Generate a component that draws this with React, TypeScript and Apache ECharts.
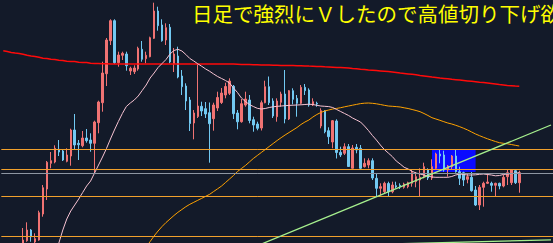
import { useEffect, useRef } from "react";
import * as echarts from "echarts";

// Candles: [open, close, lowest, highest]
const candles: number[][] = [
  [-25, -15, -27, -12], [-15, -19, -23, -11], [-19, -9, -21, -5], [-10, -5, -13, -2], [-5, -9, -14, -3],
  [-7, 3, -9, 15], [2.3, 13, 1.3, 20.7], [13, 6.3, 1.3, 14], [1, 4.3, 0, 9.7], [3, 30.3, 2.3, 32.3],
  [29, 55.3, 26.3, 58], [54, 80.7, 43, 82], [79.7, 82.3, 74.7, 91], [81, 94.7, 79.7, 97.7], [93.7, 91, 87, 103],
  [92, 83, 82, 93], [81.7, 88, 80.7, 94.7], [87, 113, 77.3, 114.3], [113, 98, 93.7, 129], [99.7, 98.3, 83, 103],
  [97.3, 105, 95.7, 112], [105, 102.3, 100.3, 114], [103, 99.7, 91.3, 109.7], [99.7, 121, 69.7, 122.3], [120.3, 141, 109.7, 142.3],
  [140.3, 170, 131.3, 181.3], [169.3, 203, 157, 205], [202.3, 222.3, 198, 223.7], [222.3, 180.3, 179, 223.7], [180.3, 188, 176.3, 191.3],
  [187.7, 189.7, 183, 191.3], [189, 177.3, 172.3, 191.3], [172, 174.7, 168, 176.3], [171.3, 175, 169, 177.7], [174, 194.7, 172.3, 196.3],
  [193.7, 183.7, 181.3, 202], [184.3, 187.7, 179.7, 191.3], [186.3, 205.3, 185.7, 206.3], [204.7, 232, 204, 240.3], [232, 217.3, 212.3, 236.3],
  [218, 202.3, 201.3, 223.7], [203, 215.3, 198, 219.7], [215.7, 181, 179.7, 219], [179, 189, 171, 195], [187, 166, 164.7, 196.3],
  [167, 156.3, 148, 173], [157, 142, 133, 159.7], [143, 119.5, 112, 146], [120, 130, 103.7, 133], [126.5, 137, 125, 179],
  [136.7, 132, 127, 141.3], [134.3, 129, 125, 141], [130.3, 119.3, 80.3, 140.5], [124.3, 138, 112.3, 140.3], [135, 145.5, 132, 151.3],
  [140.5, 150, 139, 155], [148, 156.5, 144.7, 160.3], [149.7, 162, 148, 164.7], [156.7, 129.3, 124, 158], [130, 121.2, 113.7, 133],
  [121.3, 139.3, 120.3, 144], [138, 144, 136.3, 151.3], [143, 122.5, 119.7, 148], [123.3, 118, 111.3, 126.3], [119, 114.7, 112.7, 121.3],
  [115, 140.3, 112.5, 142.5], [140.3, 156.3, 139.7, 162.3], [156.3, 140.3, 138, 166.5], [142, 127, 125, 144.7], [126.3, 142, 121.3, 144.7],
  [140.7, 149, 136.3, 151.3], [149, 124, 119.7, 173], [124, 152.3, 123, 153], [152.3, 143.7, 138.7, 154.7], [144.7, 139.7, 126.3, 148],
  [139.7, 155.7, 138.7, 158], [155.7, 152.3, 148, 159], [153, 138, 136.3, 154.7], [138, 141.3, 137, 144.7], [139.7, 139, 136.3, 141.3],
  [117, 132.3, 114.7, 134.7], [132.3, 111.3, 109.7, 133], [112.3, 106.3, 99, 115.7], [101, 122.3, 94.7, 123], [122, 90.5, 84.5, 123.7],
  [90.7, 88, 86, 96.3], [89.7, 96.3, 88, 99.7], [96.3, 76.5, 76, 99], [74.7, 95, 74.5, 98], [95.7, 93, 89.7, 99],
  [94.7, 74.7, 73, 98], [76.3, 79.7, 75.5, 84.7], [78, 82.3, 74.7, 84.7], [82.3, 65, 63, 84.7], [64.7, 54.7, 46, 69.7],
  [54.7, 56.3, 48, 59.7], [51.3, 59.7, 49.7, 61.3], [59.5, 51.3, 46.3, 61.3], [51.3, 58, 49.7, 61.3], [57.3, 56, 54.5, 61.3],
  [57.7, 56.3, 54, 59.7], [55.7, 59, 54.3, 60.3], [56.3, 60.3, 54.7, 61.3], [59.7, 70.5, 56.3, 73], [61.3, 66.3, 55.7, 71],
  [63, 65.7, 46.3, 74.7], [66.3, 76.3, 64.7, 80.3], [73, 65, 63, 74.7], [65, 76.3, 63, 83.7], [74.7, 89, 73, 90.3],
  [89, 87, 79.7, 93.7], [88, 73, 71.3, 92.3], [73, 77, 66.3, 78], [76.3, 87, 73, 88], [87, 71.3, 70.3, 93.7],
  [71.3, 64.7, 58, 76.3], [70.3, 63, 57, 71.3], [63.7, 66.3, 59.7, 69], [65.7, 52.3, 51.3, 71], [53, 38, 37, 57],
  [38, 55.7, 33, 58], [55.7, 59.7, 36.3, 61.3], [59.7, 61, 59, 69], [59.7, 57.7, 51.3, 61.3], [57.7, 59.7, 46.3, 60.3],
  [59.7, 57, 53.7, 60.3], [57, 65.7, 55.7, 68], [66.3, 70.3, 58, 73.7], [60.3, 73, 58, 73.7], [72.3, 60.3, 59, 73.7],
  [60.3, 70.3, 50.3, 72.3],
];

// Long moving average (red), one value per candle
const maLong: number[] = [
  192.2, 191.5, 190.6, 190, 189.6, 188.8, 187.8, 187, 186.6, 185.7,
  184.8, 184.5, 183.7, 183.5, 182.7, 182.5, 181.7, 181.5, 181.4, 180.7,
  180.6, 180.4, 179.7, 179.6, 179.5, 179.3, 179.2, 179, 179, 179,
  179, 179, 179, 179, 179, 179, 179, 179, 179, 179,
  179, 179, 179, 179, 179, 179, 179, 179, 179, 179,
  179, 179, 179, 179, 179, 179, 179, 179, 179, 178.8,
  178.6, 178.5, 178.4, 178.3, 178.2, 178.1, 178, 177.9, 177.8, 177.7,
  177.6, 177.5, 177.5, 177.4, 177.3, 177.2, 177.1, 176.9, 176.8, 176.6,
  176.5, 176.2, 176, 175.8, 175.6, 175.4, 175.2, 175, 174.5, 174.2,
  173.8, 173.5, 173, 172.7, 172.4, 172.1, 171.8, 171.4, 170.9, 170.4,
  169.9, 169.5, 169.1, 168.7, 168.2, 167.6, 167.1, 166.6, 166, 165.5,
  165, 164.6, 164.2, 163.7, 163.3, 162.9, 162.5, 162.1, 161.7, 161.3,
  160.8, 160.4, 159.9, 159.4, 158.9, 158.4, 158, 157.5, 157.2, 156.9,
  156.7,
];

// Short moving average (pink), starts at candle 13
const maShortStart = 13;
const maShort: number[] = [
  -13, 0, 13, 24, 32, 38, 44,
  50.5, 57, 62, 70, 78, 86, 94.5, 104, 113, 121.5,
  129.5, 136.5, 140, 143, 147, 152.5, 158, 165, 170, 175.5,
  179.5, 183.5, 189, 192.5, 193.7, 192, 188.5, 184.5, 182, 179.2,
  176.7, 174, 171.7, 169, 166.5, 164.5, 162.5, 160, 155, 150.5,
  145, 141.5, 138.5, 136.5, 134.7, 134, 134.5, 135.5, 136.2, 136.7,
  137, 137.3, 137.6, 137.8, 138, 138.2, 138.5, 138.8, 138.5, 137.7,
  137, 136.7, 136.4, 135.5, 133.5, 131.5, 129.5, 127.5, 125, 123,
  121, 117, 112.5, 107.5, 103, 98, 93.5, 90, 86.5, 82,
  79, 75.7, 74, 71.7, 70, 69, 68, 67, 66, 65.7,
  65.7, 65.7, 65.7, 66.5, 68, 69, 68.5, 68, 68, 68.2,
  68.7, 69, 68.5, 68, 67.2, 67.5, 68.5, 69, 69.3, 69.7,
  70.3,
];

// Middle moving average (orange), starts at candle 35
const maMidStart = 35;
const maMid: number[] = [
  -12, -4, 1.5, 7, 12,
  16.5, 20.5, 24, 27.5, 30.7, 33.5, 36.3, 38.7, 40.7, 42.7,
  44.7, 46.7, 48.7, 51.5, 54.2, 57, 60.5, 64, 67.5, 71.5,
  74.5, 77.5, 81, 84.5, 87.5, 90.5, 93.5, 96.5, 99.5, 102.5,
  105.3, 108, 110.5, 113, 115.5, 118.5, 121, 123, 126, 128.5,
  130.5, 132, 133, 134, 134.6, 135.3, 136.2, 137, 137.8, 138.6,
  139.4, 139.8, 140, 139.7, 139.2, 138.5, 137.7, 137, 136.7, 136.4,
  136, 135.2, 134.5, 133.5, 132.5, 131.3, 129.5, 127.5, 125.3, 124,
  122.7, 121.3, 120, 119, 117.7, 116.3, 114.7, 113, 111, 109,
  107.3, 105.7, 104.2, 102.8, 101.5, 100.3, 99.7, 99.2, 98.5, 97.7,
  97,
];

// Horizontal levels
const orangeLevels: number[] = [93.5, 73.5, 46.7, 7];
const grayLevels: number[] = [69.7];

// Trend lines: [categoryIndex, value]
const trendUpper: number[][] = [[65, -1.1], [138, 118]];
const trendLower: number[][] = [[100, -0.7], [138, 3.1]];

// Highlighted zone: category range and value range
const zoneX: number[] = [108, 119];
const zoneY: number[] = [71, 93.5];

const slotCount = 139;
const categories: string[] = Array.from({ length: slotCount }, (_, i) => String(i + 1));

const title = "日足で強烈にＶしたので高値切り下げ欲";

const UP = "#f07373";
const DOWN = "#72c9f2";

export default function App() {
  const ref = useRef<HTMLDivElement>(null);

  useEffect(() => {
    document.body.style.margin = "0";
    const chart = echarts.init(ref.current!, null, { renderer: "svg" });
    const pad = (start: number, arr: number[]) => [...new Array(start).fill(null), ...arr];

    chart.setOption({
      animation: false,
      backgroundColor: "#131a29",
      grid: { left: 1.3, top: 0, width: slotCount * 4, height: 243 },
      xAxis: {
        type: "category",
        data: categories,
        boundaryGap: true,
        show: false,
      },
      yAxis: { type: "value", min: 0, max: 243, show: false },
      graphic: [
        {
          type: "text",
          left: 192,
          top: 2.5,
          style: {
            text: title,
            fill: "#ffff00",
            fontSize: 20.5,
            fontFamily: '"Noto Sans CJK JP", "Noto Sans CJK SC", sans-serif',
          },
        },
      ],
      series: [
        {
          type: "candlestick",
          silent: true,
          data: candles,
          barWidth: 2,
          itemStyle: {
            color: UP,
            color0: DOWN,
            borderColor: UP,
            borderColor0: DOWN,
            borderWidth: 1,
          },
          markArea: {
            silent: true,
            itemStyle: { color: "#0a0aff", opacity: 1 },
            data: [[{ coord: [zoneX[0], zoneY[1]] }, { coord: [zoneX[1], zoneY[0]] }]],
          },
          markLine: {
            silent: true,
            symbol: "none",
            label: { show: false },
            data: [
              ...orangeLevels.map((v) => ({ yAxis: v, lineStyle: { color: "#f2a12c", width: 1, type: "solid" } })),
              ...grayLevels.map((v) => ({ yAxis: v, lineStyle: { color: "#8e96a2", width: 1, type: "solid" } })),
            ],
          },
          z: 3,
        },
        {
          type: "line",
          silent: true,
          data: maLong,
          symbol: "none",
          lineStyle: { color: "#ff0a0a", width: 1.5 },
          z: 4,
        },
        {
          type: "line",
          silent: true,
          data: pad(maMidStart, maMid),
          symbol: "none",
          lineStyle: { color: "#ffa200", width: 1 },
          z: 4,
        },
        {
          type: "line",
          silent: true,
          data: pad(maShortStart, maShort),
          symbol: "none",
          lineStyle: { color: "#f7c3d2", width: 1 },
          z: 4,
        },
        {
          type: "line",
          silent: true,
          data: trendUpper,
          symbol: "none",
          lineStyle: { color: "#a6f08e", width: 1.3 },
          z: 5,
        },
        {
          type: "line",
          silent: true,
          data: trendLower,
          symbol: "none",
          lineStyle: { color: "#a6f08e", width: 1.3 },
          z: 5,
        },
      ],
    });

    return () => chart.dispose();
  }, []);

  return <div ref={ref} style={{ width: 553, height: 243 }} />;
}
